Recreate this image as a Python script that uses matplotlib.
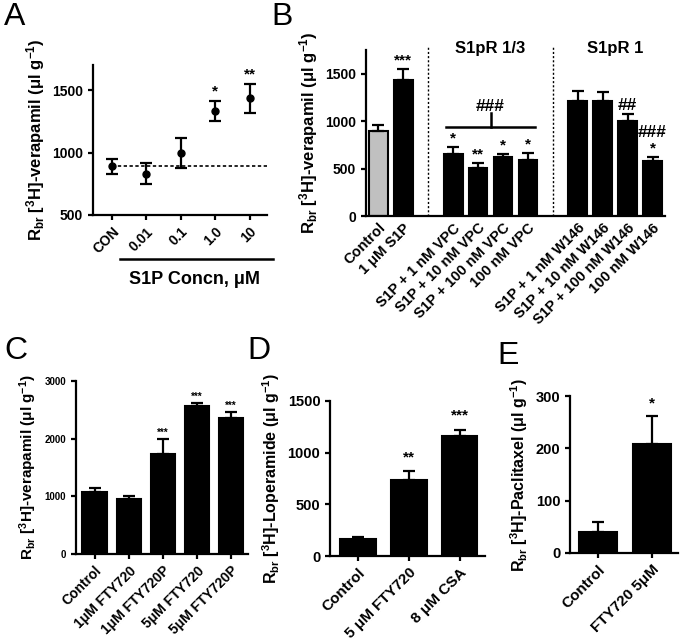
import numpy as np
import matplotlib
matplotlib.use('Agg')
import matplotlib.pyplot as plt
from matplotlib.transforms import blended_transform_factory
from matplotlib.lines import Line2D

plt.rcParams['font.family'] = ['Liberation Sans', 'DejaVu Sans']
plt.rcParams['font.weight'] = 'bold'
plt.rcParams['axes.labelweight'] = 'bold'
plt.rcParams['mathtext.default'] = 'regular'
plt.rcParams['axes.linewidth'] = 1.6
plt.rcParams['xtick.major.width'] = 1.6
plt.rcParams['ytick.major.width'] = 1.6
plt.rcParams['xtick.major.size'] = 3.5
plt.rcParams['ytick.major.size'] = 3.5

# panel A: dose response
a_labels = ['CON', '0.01', '0.1', '1.0', '10']
a_mean = [890, 830, 1000, 1330, 1435]
a_err = [62, 83, 120, 81, 117]
a_stars = ['', '', '', '*', '**']

# panel B: receptor antagonists
b_labels = ['Control', '1 μM S1P',
            'S1P + 1 nM VPC', 'S1P + 10 nM VPC', 'S1P + 100 nM VPC', '100 nM VPC',
            'S1P + 1 nM W146', 'S1P + 10 nM W146', 'S1P + 100 nM W146', '100 nM W146']
b_groups = [2, 4, 4]
b_mean = [895, 1435, 652, 504, 620, 595, 1208, 1215, 997, 585]
b_err = [60, 113, 80, 53, 32, 68, 110, 92, 78, 35]
b_stars = ['', '***', '*', '**', '*', '*', '', '', '', '*']
b_hash = ['', '', '', '', '', '', '', '', '##', '###']
b_headers = ['S1pR 1/3', 'S1pR 1']

# panel C: FTY720
c_labels = ['Control', '1μM FTY720', '1μM FTY720P', '5μM FTY720', '5μM FTY720P']
c_mean = [1080, 948, 1734, 2566, 2353]
c_err = [58, 57, 255, 47, 104]
c_stars = ['', '', '***', '***', '***']

# panel D: loperamide
d_labels = ['Control', '5 μM FTY720', '8 μM CSA']
d_mean = [160, 738, 1165]
d_err = [20, 80, 58]
d_stars = ['', '**', '***']

# panel E: paclitaxel
e_labels = ['Control', 'FTY720 5μM']
e_mean = [41, 209]
e_err = [18, 52]
e_stars = ['', '*']

W, H = 680, 640
fig = plt.figure(figsize=(W / 100, H / 100), dpi=100)


def px_axes(l, r, t, b):
    return fig.add_axes([l / W, 1 - b / H, (r - l) / W, (b - t) / H])


def ylab(name):
    return 'R$_{br}$ [$^{3}$H]-' + name + ' (μl g$^{-1}$)'


def style(ax, tick_fs, xlab_fs):
    for s in ['top', 'right']:
        ax.spines[s].set_visible(False)
    ax.tick_params(axis='y', labelsize=tick_fs)
    ax.tick_params(axis='x', labelsize=xlab_fs)
    for lab in ax.get_xticklabels():
        lab.set_rotation(45)
        lab.set_ha('right')
        lab.set_rotation_mode('anchor')


def upper_bars(ax, x, mean, err, colors, width):
    ax.bar(x, mean, width=width, color=colors, edgecolor='black', linewidth=1.5, zorder=2)
    ax.errorbar(x, mean, yerr=[np.zeros(len(err)), err], fmt='none', ecolor='black',
                elinewidth=1.6, capsize=4, capthick=1.6, zorder=3)


def stars(ax, x, mean, err, marks, fs, pad):
    for xi, m, e, s in zip(x, mean, err, marks):
        if s:
            ax.text(xi, m + e + pad, s, ha='center', va='bottom', fontsize=fs, fontweight='bold')


# ---- A
axA = px_axes(93, 267, 65, 215)
xa = np.arange(len(a_labels))
axA.errorbar(xa, a_mean, yerr=a_err, fmt='o', color='black', ms=5, capsize=4,
             elinewidth=1.6, capthick=1.6, zorder=3)
axA.plot([xa[0], 4.5], [a_mean[0], a_mean[0]], color='black', lw=1.2, ls=(0, (2, 1.5)))
axA.set_xlim(-0.55, 4.5)
axA.set_ylim(500, 1700)
axA.set_yticks([500, 1000, 1500])
axA.set_xticks(xa)
axA.set_xticklabels(a_labels)
style(axA, 10, 10)
stars(axA, xa, a_mean, a_err, a_stars, 11, 20)
axA.set_ylabel(ylab('verapamil'), fontsize=12, labelpad=4)
axA.add_line(Line2D([0.155, 1.034], [-0.293, -0.293], transform=axA.transAxes,
                    color='black', lw=1.8, clip_on=False))
axA.text(0.586, -0.43, 'S1P Concn, μM', transform=axA.transAxes, ha='center',
         va='center', fontsize=13, fontweight='bold')

# ---- B
axB = px_axes(366, 665, 50, 216)
xb = []
start = 0
for g in b_groups:
    xb.extend(range(start, start + g))
    start += g + 1
xb = np.array(xb)
b_colors = ['#c0c0c0'] + ['black'] * (len(b_mean) - 1)
upper_bars(axB, xb, b_mean, b_err, b_colors, 0.75)
axB.set_xlim(-0.5, 11.5)
axB.set_ylim(0, 1750)
axB.set_yticks([0, 500, 1000, 1500])
axB.set_xticks(xb)
axB.set_xticklabels(b_labels)
style(axB, 10, 10.5)
axB.tick_params(axis='x', length=0)
stars(axB, xb, b_mean, b_err, b_stars, 11, 15)
trB = blended_transform_factory(axB.transData, axB.transAxes)
gap_x = []
start = 0
for g in b_groups[:-1]:
    start += g
    gap_x.append(start)
    start += 1
for gx in gap_x:
    axB.plot([gx, gx], [0, 1.02], transform=trB, color='black', lw=1.0,
             ls=(0, (1.5, 1.5)), clip_on=False)
grp_center = [gap_x[0] + 1 + (b_groups[1] - 1) / 2, gap_x[1] + 1 + (b_groups[2] - 1) / 2]
for cx, hdr in zip(grp_center, b_headers):
    axB.text(cx, 1.01, hdr, transform=trB, ha='center', va='center', fontsize=12, fontweight='bold')
# bracket over the VPC group
vpc_x = xb[2:6]
axB.plot([vpc_x[0] - 0.3, vpc_x[-1] + 0.3], [941, 941], color='black', lw=1.8)
axB.plot([grp_center[0], grp_center[0]], [941, 1089], color='black', lw=1.8)
axB.text(grp_center[0], 1155, '###', ha='center', va='center', fontsize=12.5, fontweight='bold')
for xi, m, e, s, h in zip(xb, b_mean, b_err, b_stars, b_hash):
    if h:
        y0 = m + e + (265 if s else 95)
        axB.text(xi, y0, h, ha='center', va='center', fontsize=12.5, fontweight='bold')
axB.set_ylabel(ylab('verapamil'), fontsize=12, labelpad=4)

# ---- C
axC = px_axes(76, 248, 381, 554)
xc = np.arange(len(c_labels))
upper_bars(axC, xc, c_mean, c_err, 'black', 0.72)
axC.set_xlim(-0.55, 4.5)
axC.set_ylim(0, 3000)
axC.set_yticks([0, 1000, 2000, 3000])
axC.set_xticks(xc)
axC.set_xticklabels(c_labels)
style(axC, 7, 10)
stars(axC, xc, c_mean, c_err, c_stars, 7, 30)
axC.set_ylabel(ylab('verapamil'), fontsize=11, labelpad=4)

# ---- D
axD = px_axes(330, 485, 401, 556)
xd = np.arange(len(d_labels))
upper_bars(axD, xd, d_mean, d_err, 'black', 0.7)
axD.set_xlim(-0.55, 2.5)
axD.set_ylim(0, 1500)
axD.set_yticks([0, 500, 1000, 1500])
axD.set_xticks(xd)
axD.set_xticklabels(d_labels)
style(axD, 10.5, 11)
stars(axD, xd, d_mean, d_err, d_stars, 11, 70)
axD.set_ylabel(ylab('Loperamide'), fontsize=11.5, labelpad=4)

# ---- E
axE = px_axes(570, 678, 396, 553)
xe = np.arange(len(e_labels))
upper_bars(axE, xe, e_mean, e_err, 'black', 0.7)
axE.set_xlim(-0.52, 1.48)
axE.set_ylim(0, 300)
axE.set_yticks([0, 100, 200, 300])
axE.set_xticks(xe)
axE.set_xticklabels(e_labels)
style(axE, 10.5, 11)
stars(axE, xe, e_mean, e_err, e_stars, 11, 12)
axE.set_ylabel(ylab('Paclitaxel'), fontsize=11.5, labelpad=4)

# panel letters
for lbl, x, y in [('A', 4, 2), ('B', 271, 2), ('C', 4, 336), ('D', 247, 336), ('E', 497, 341)]:
    fig.text(x / W, 1 - y / H, lbl, fontsize=23, fontweight='normal', ha='left', va='top')

fig.savefig('out.png', dpi=100)
